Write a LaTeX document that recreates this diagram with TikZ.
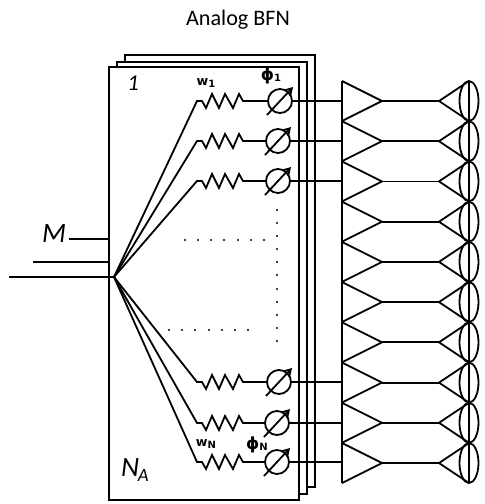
\documentclass[tikz,border=0pt]{standalone}
\usepackage{fontspec}
\setmainfont{Carlito}
\newfontfamily\labelfont{DejaVu Sans}
\usetikzlibrary{arrows.meta}
\tikzset{
    wire/.style={line width=1.35pt},
    sheet/.style={line width=1.35pt,fill=white},
    dotmark/.style={circle,fill=black,inner sep=0pt,minimum size=1.7pt},
    weightlabel/.style={font=\labelfont\bfseries\fontsize{9.5}{9.5}\selectfont,inner sep=0pt},
    phaselabel/.style={font=\labelfont\bfseries\fontsize{12.5}{12.5}\selectfont,inner sep=0pt},
    boxlabel/.style={font=\fontsize{21}{21}\selectfont\itshape,inner sep=0pt}
}
\newcommand{\subtext}[1]{\raisebox{-1pt}{\fontsize{7.5}{7.5}\selectfont\bfseries #1}}
\newcommand{\resistorrow}[3]{%
    \coordinate (knee#3) at (197,#1);
    \coordinate (resA#3) at (202,#1);
    \coordinate (resB#3) at (243,#1);
    \node[circle,draw,wire,minimum size=18pt,inner sep=0pt] (shift#3) at (#2,#1) {};
    \coordinate (amp#3) at (342,#1);
    \draw[wire] (feed) -- (knee#3) -- (resA#3) -- ++(4,7) -- ++(6,-14) -- ++(7,14) -- ++(6,-14) -- ++(8,14) -- ++(6,-14) -- ++(4,7) -- (resB#3) -- (shift#3);
    \draw[wire] (shift#3) -- (amp#3);
    \draw[wire,-{Straight Barb[length=5pt,width=6pt]}] (#2-13,#1+14) -- (#2+13,#1-14);
}
\begin{document}
\begin{tikzpicture}[x=0.75pt,y=-0.75pt]
    \useasboundingbox (0,0) rectangle (485,504);
    \node[inner sep=0pt] (title) at (238,20) {\fontsize{16.6}{16.6}\selectfont Analog BFN};
    % stacked sheets
    \draw[sheet] (125,55) rectangle (315,487);
    \draw[sheet] (117,62) rectangle (307,494);
    \draw[sheet] (109,67) rectangle (299,500);
    \coordinate (feed) at (114,277);
    % inputs
    \coordinate (inA) at (69,239);
    \coordinate (inB) at (33,262);
    \coordinate (inC) at (9,277);
    \coordinate (edgeA) at (109,239);
    \coordinate (edgeB) at (109,262);
    \draw[wire] (inA) -- (edgeA);
    \draw[wire] (inB) -- (edgeB);
    \draw[wire] (inC) -- (feed);
    \node[boxlabel] (mlabel) at (54,234) {M};
    \node[boxlabel,font=\fontsize{17}{17}\selectfont\itshape] (one) at (133,83) {1};
    \node[boxlabel] (na) at (135,470) {N\kern-1pt\raisebox{-4pt}{\fontsize{14}{14}\selectfont A}};
    % weight and phase rows
    \resistorrow{101}{280}{a}
    \resistorrow{141}{278}{b}
    \resistorrow{181}{278}{c}
    \resistorrow{382}{279}{h}
    \resistorrow{423}{277}{i}
    \resistorrow{462}{277}{j}
    \node[weightlabel] (wone) at (206,83) {w\subtext{1}};
    \node[phaselabel] (phione) at (271,76) {ϕ\subtext{1}};
    \node[weightlabel] (wn) at (206,444) {w\subtext{N}};
    \node[phaselabel] (phin) at (257,445) {ϕ\subtext{N}};
    % amplifiers and horns
    \foreach \rowy in {101,141.2,181.4,221.7,261.9,302.1,342.3,382.6,422.8,463} {
        \draw[wire,line join=round] (342,\rowy-20) -- (382,\rowy) -- (342,\rowy+20);
        \draw[wire,line join=round] (469,\rowy-20) -- (439,\rowy) -- (469,\rowy+20);
        \draw[wire] (382,\rowy) -- (439,\rowy);
        \draw[wire] (469,\rowy) ellipse (9.5 and 20);
    }
    \draw[wire] (342,81) -- (342,483);
    \draw[wire] (469,81) -- (469,483);
    % dots
    \foreach \dotx in {185,198,211,224,238,251,264} {
        \node[dotmark] at (\dotx,240) {};
    }
    \foreach \dotx in {169,182,195,209,222,235,248} {
        \node[dotmark] at (\dotx,330) {};
    }
    \foreach \doty in {210,223,236,249,262,275,289,302,315,328,341} {
        \node[dotmark] at (277,\doty) {};
    }
\end{tikzpicture}
\end{document}
